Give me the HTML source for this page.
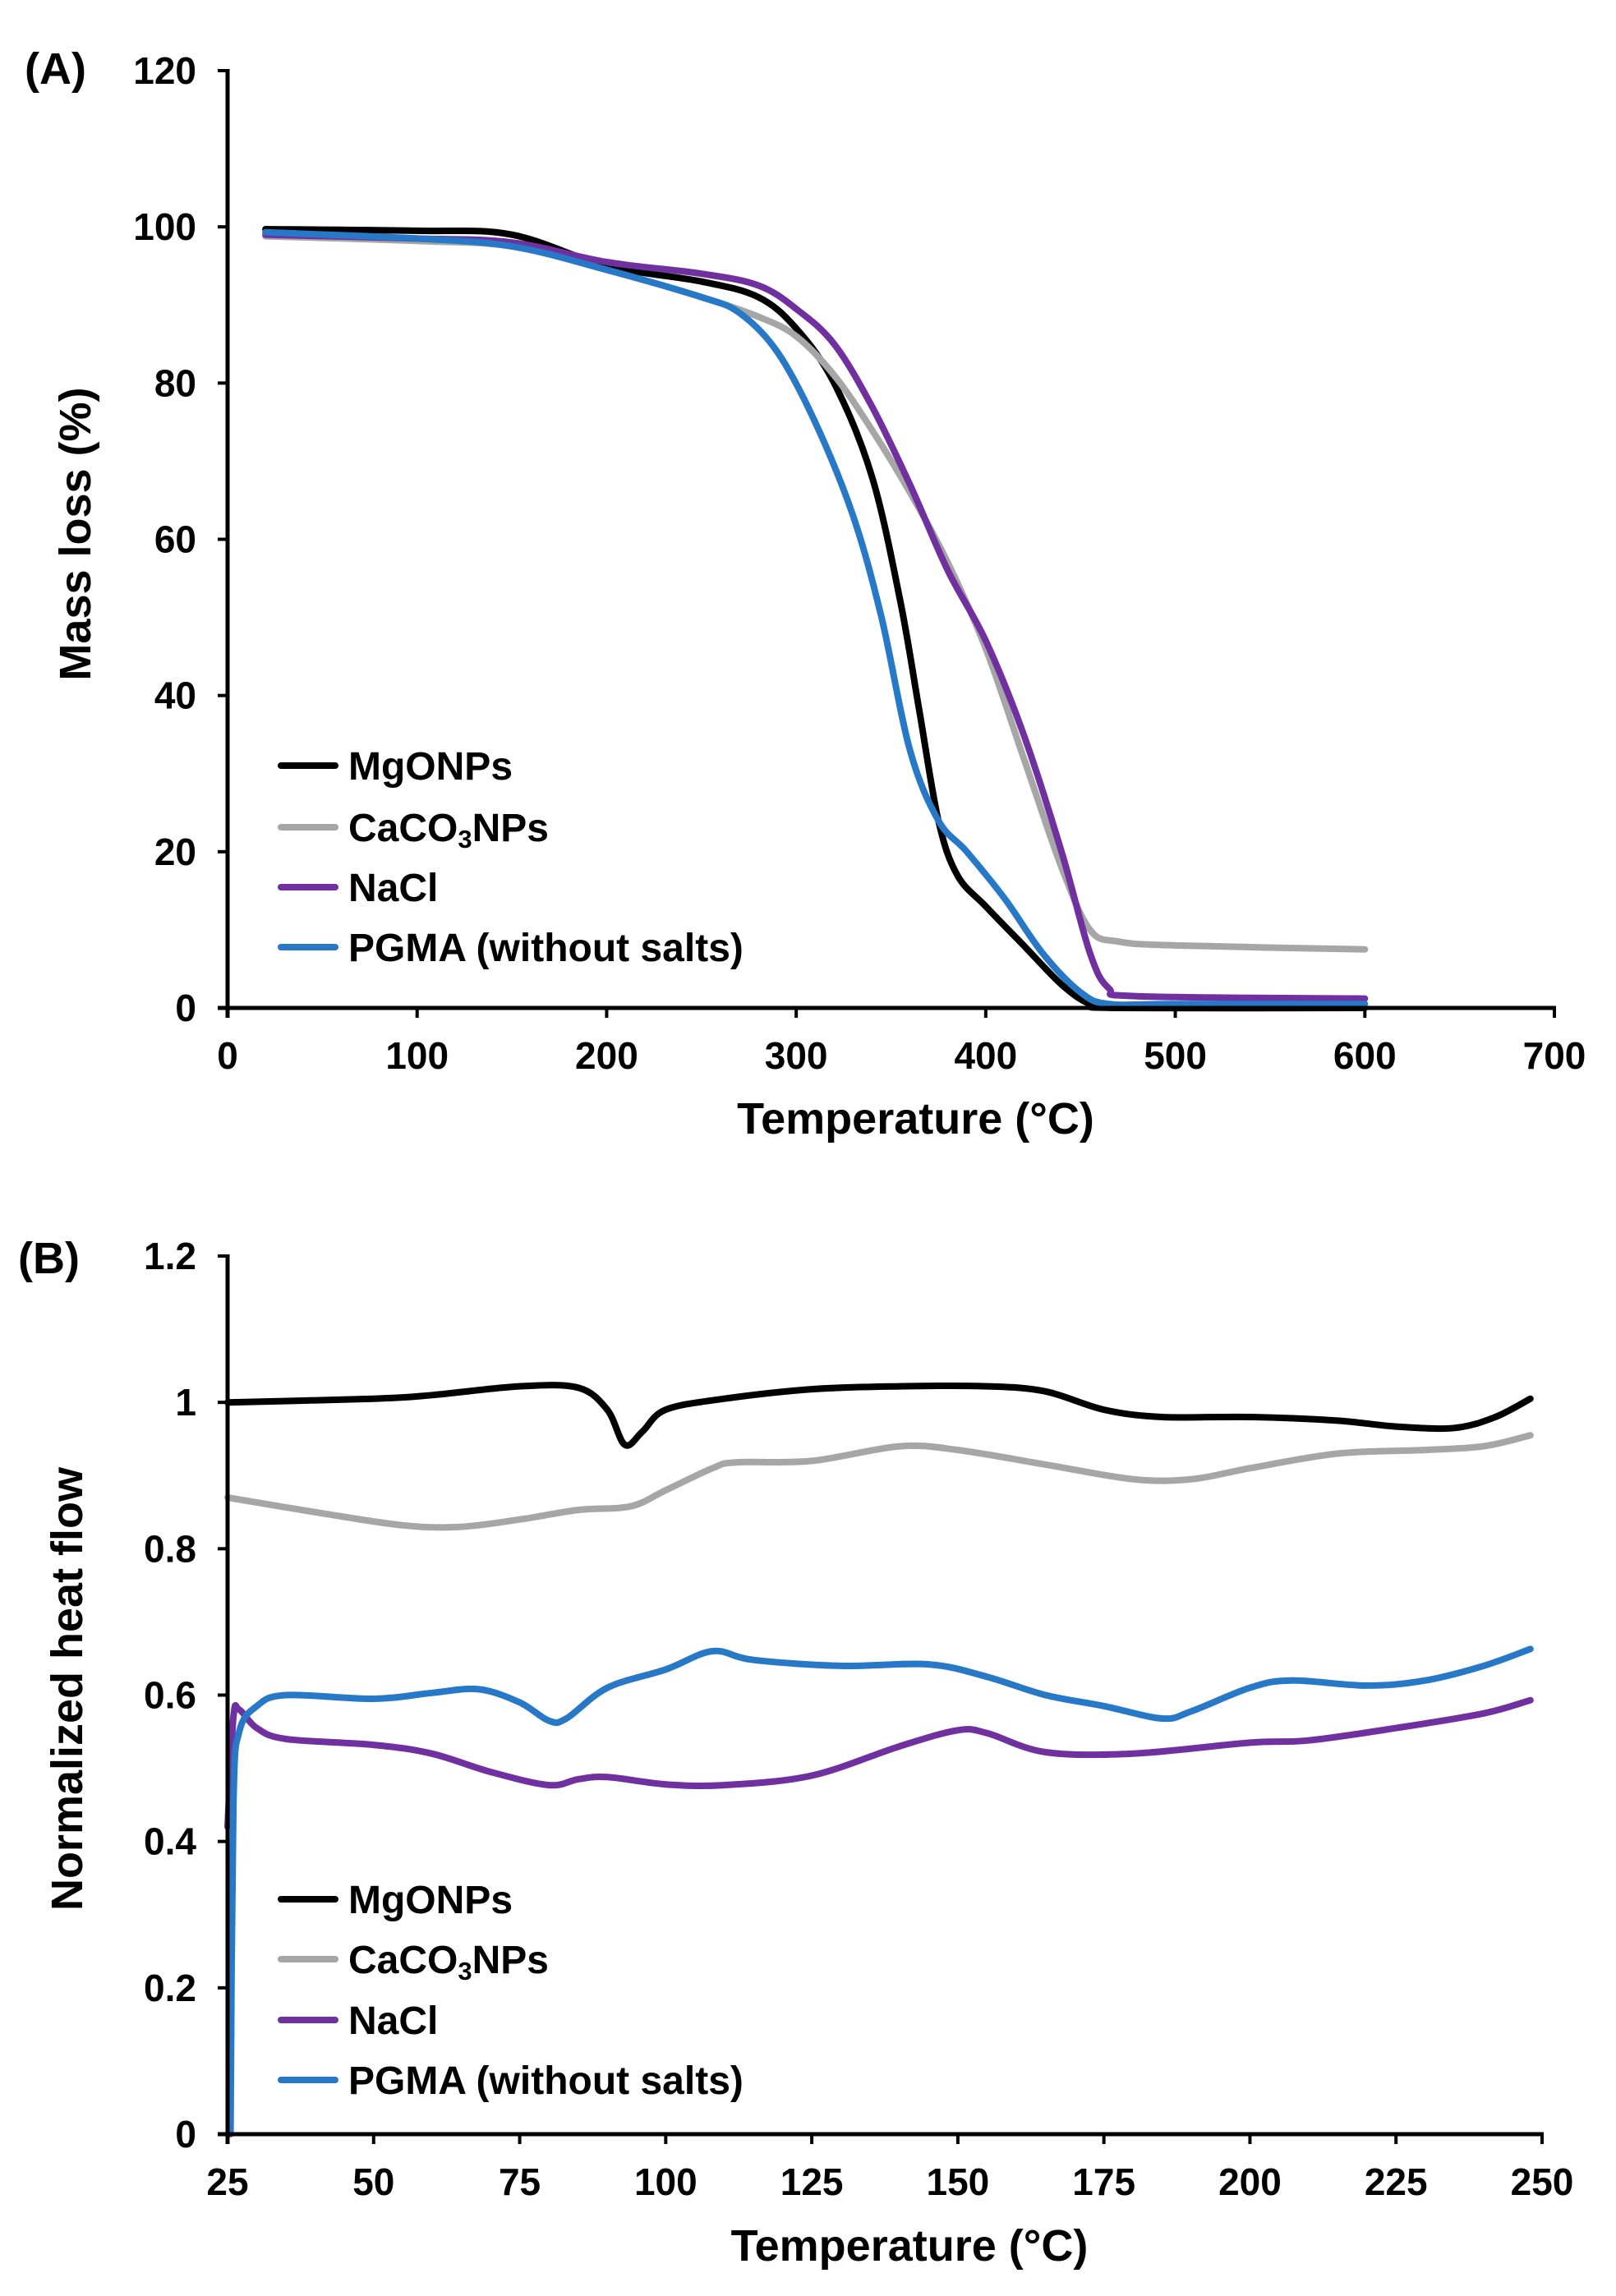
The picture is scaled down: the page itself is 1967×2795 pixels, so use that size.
<!DOCTYPE html>
<html><head><meta charset="utf-8"><style>
html,body{margin:0;padding:0;background:#fff;}
svg{display:block;}
text{font-family:"Liberation Sans",sans-serif;font-weight:bold;fill:#000;}
</style></head>
<body>
<svg id="fig" width="1967" height="2795" viewBox="0 0 1967 2795" xmlns="http://www.w3.org/2000/svg">
<g id="chartA"></g>
<g id="chartB"></g>
</svg>
<script>
// ---------- Chart A data ----------
const aXTicks = [0,100,200,300,400,500,600,700];
const aYTicks = [0,20,40,60,80,100,120];
const aMgX = [20,100,150,200,250,280,300,320,340,355,365,375,385,400,420,440,455,470,600];
const aMgY = [99.7,99.5,99,95,93,91,87,80,68,52,38,24,17,13,8,3,0.5,0,0];
const aCaX = [20,100,150,200,250,280,300,320,340,360,380,400,420,440,455,470,500,600];
const aCaY = [98.8,98.2,97.5,94.5,91,88.5,86,81,74,66,57,46,32,18,10,8.5,8,7.5];
const aNaX = [20,100,150,200,250,280,300,320,340,360,380,400,420,440,455,465,480,600];
const aNaY = [99,98.5,98,95.5,94,92.5,89.5,85,77,67,56,47,35,20,7,2.5,1.5,1.2];
const aPgX = [20,100,150,200,250,270,290,310,330,345,360,375,390,410,430,450,465,500,600];
const aPgY = [99.3,98.5,97.5,94.5,91,89,84,75,63,50,33,24,20,14,7,2,0.5,0.5,0.5];

// ---------- Chart B data ----------
const bXTicks = [25,50,75,100,125,150,175,200,225,250];
const bYTickVals = [0,0.2,0.4,0.6,0.8,1,1.2];
const bYTickLabels = ["0","0.2","0.4","0.6","0.8","1","1.2"];
const bMgX = [25,50,60,75,85,90,93,96,100,110,125,140,155,165,175,185,200,215,225,235,242,248];
const bMgY = [1.0,1.005,1.01,1.022,1.02,0.99,0.942,0.96,0.99,1.005,1.018,1.022,1.022,1.015,0.99,0.98,0.98,0.975,0.967,0.965,0.98,1.005];
const bCaX = [25,40,55,65,75,85,94,100,108,112,125,140,150,165,180,190,200,215,230,240,248];
const bCaY = [0.87,0.85,0.832,0.83,0.84,0.853,0.858,0.88,0.91,0.918,0.92,0.94,0.935,0.915,0.895,0.895,0.91,0.93,0.935,0.94,0.955];
const bNaX = [25,26,27,30,35,50,60,70,80,85,90,100,110,125,140,150,155,165,180,200,210,225,240,248];
const bNaY = [0.42,0.57,0.58,0.555,0.54,0.532,0.52,0.495,0.477,0.485,0.488,0.478,0.477,0.49,0.53,0.552,0.548,0.522,0.52,0.535,0.538,0.555,0.575,0.593];
const bPgX = [25.5,26,27,30,35,50,60,68,75,80,83,90,100,108,115,130,145,155,165,175,185,190,200,207,220,230,240,248];
const bPgY = [0,0.45,0.55,0.585,0.6,0.595,0.603,0.608,0.59,0.565,0.568,0.61,0.635,0.66,0.648,0.64,0.642,0.625,0.6,0.585,0.568,0.578,0.61,0.62,0.613,0.62,0.64,0.663];

const legendNames = ["MgONPs","CaCO3NPs","NaCl","PGMA (without salts)"];
const colors = ["#000000","#a6a6a6","#7030a0","#2878c8"];
const NS = "http://www.w3.org/2000/svg";

function mk(parent, tag, attrs, txt){
  const e = document.createElementNS(NS, tag);
  for (const k in attrs) e.setAttribute(k, attrs[k]);
  if (txt !== undefined) e.textContent = txt;
  parent.appendChild(e);
  return e;
}

function smoothPath(pts){
  let d = "M" + pts[0][0].toFixed(1) + "," + pts[0][1].toFixed(1);
  for (let i = 0; i < pts.length - 1; i++){
    const p0 = pts[i-1] || pts[i], p1 = pts[i], p2 = pts[i+1], p3 = pts[i+2] || p2;
    const c1x = p1[0] + (p2[0]-p0[0])/6, c1y = p1[1] + (p2[1]-p0[1])/6;
    const c2x = p2[0] - (p3[0]-p1[0])/6, c2y = p2[1] - (p3[1]-p1[1])/6;
    d += " C" + c1x.toFixed(1) + "," + c1y.toFixed(1) + " " + c2x.toFixed(1) + "," + c2y.toFixed(1) + " " + p2[0].toFixed(1) + "," + p2[1].toFixed(1);
  }
  return d;
}

function drawChart(g, cfg){
  const sx = v => cfg.x0 + (v - cfg.xmin) / (cfg.xmax - cfg.xmin) * (cfg.x1 - cfg.x0);
  const sy = v => cfg.y0 - (v - cfg.ymin) / (cfg.ymax - cfg.ymin) * (cfg.y0 - cfg.y1);
  cfg.series.forEach((s, i) => {
    const pts = s.x.map((v, j) => [sx(v), sy(s.y[j])]);
    const p = mk(g, "path", {d: smoothPath(pts), fill: "none", stroke: colors[i], "stroke-width": 8, "stroke-linejoin": "round", "stroke-linecap": "round"});
    
    
  });
  const ya = mk(g, "line", {x1: cfg.x0, y1: cfg.y1 - 2, x2: cfg.x0, y2: cfg.y0 + 12, stroke: "#000", "stroke-width": 5});
  
  
  const xa = mk(g, "line", {x1: cfg.x0 - 12, y1: cfg.y0, x2: cfg.x1 + 2, y2: cfg.y0, stroke: "#000", "stroke-width": 5});
  
  
  cfg.xticks.forEach(v => {
    const t = mk(g, "line", {x1: sx(v), y1: cfg.y0, x2: sx(v), y2: cfg.y0 + 12, stroke: "#000", "stroke-width": 4});
    
    
    const l = mk(g, "text", {x: sx(v), y: cfg.y0 + 74, "text-anchor": "middle", "font-size": 46, "textLength": 0}, String(v));
    l.removeAttribute("textLength");
    
    
  });
  cfg.yticks.forEach((v, i) => {
    const t = mk(g, "line", {x1: cfg.x0 - 12, y1: sy(v), x2: cfg.x0, y2: sy(v), stroke: "#000", "stroke-width": 4});
    
    
    const l = mk(g, "text", {x: cfg.x0 - 38, y: sy(v) + 16, "text-anchor": "end", "font-size": 46}, cfg.ylabels[i]);
    
    
  });
  const xt = mk(g, "text", {x: (cfg.x0 + cfg.x1) / 2 + 30, y: cfg.xTitleY, "text-anchor": "middle", "font-size": 54}, "Temperature (°C)");
  
  
  const yt = mk(g, "text", {x: 0, y: 0, "text-anchor": "middle", "font-size": 54, transform: "translate(" + cfg.yTitleX + "," + cfg.yTitleY + ") rotate(-90)"}, cfg.yTitle);
  
  
  const pl = mk(g, "text", {x: cfg.panelX, y: cfg.panelY, "font-size": 54}, cfg.panel);
  
  
  cfg.legendY.forEach((ly, i) => {
    const lg = mk(g, "g", {});
    
    
    mk(lg, "line", {x1: 342, y1: ly, x2: 408, y2: ly, stroke: colors[i], "stroke-width": 8, "stroke-linecap": "round"});
    const tx = mk(lg, "text", {x: 424, y: ly + 17, "font-size": 48});
    if (legendNames[i] === "CaCO3NPs") {
      tx.appendChild(document.createTextNode("CaCO"));
      mk(tx, "tspan", {"font-size": 31, dy: 8}, "3");
      mk(tx, "tspan", {dy: -8}, "NPs");
    } else {
      tx.textContent = legendNames[i];
    }
  });
}

drawChart(document.getElementById("chartA"), {
  x0: 277, x1: 1892, y0: 1227, y1: 86, xmin: 0, xmax: 700, ymin: 0, ymax: 120,
  xticks: aXTicks, yticks: aYTicks, ylabels: aYTicks.map(String),
  series: [{key:"mgonps",x:aMgX,y:aMgY},{key:"caco3nps",x:aCaX,y:aCaY},{key:"nacl",x:aNaX,y:aNaY},{key:"pgma",x:aPgX,y:aPgY}],
  xTitleY: 1380, yTitleX: 110, yTitleY: 650, yTitle: "Mass loss (%)",
  panel: "(A)", panelX: 30, panelY: 102, legendY: [932,1007,1080,1153]
});
drawChart(document.getElementById("chartB"), {
  x0: 277, x1: 1877, y0: 2598, y1: 1529, xmin: 25, xmax: 250, ymin: 0, ymax: 1.2,
  xticks: bXTicks, yticks: bYTickVals, ylabels: bYTickLabels,
  series: [{key:"mgonps",x:bMgX,y:bMgY},{key:"caco3nps",x:bCaX,y:bCaY},{key:"nacl",x:bNaX,y:bNaY},{key:"pgma",x:bPgX,y:bPgY}],
  xTitleY: 2752, yTitleX: 100, yTitleY: 2056, yTitle: "Normalized heat flow",
  panel: "(B)", panelX: 22, panelY: 1550, legendY: [2312,2385,2459,2532]
});
</script>
</body></html>
